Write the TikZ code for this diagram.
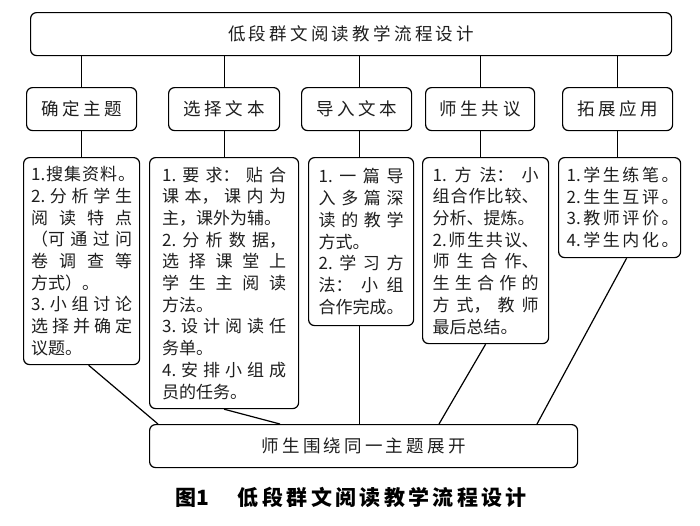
\documentclass[tikz,border=0pt]{standalone}
\usepackage{fontspec}
\setmainfont{Noto Sans CJK SC}
\XeTeXlinebreaklocale "zh"
\XeTeXlinebreakskip=0pt plus 40pt minus 1pt
\setlength{\parindent}{0pt}
\definecolor{textc}{HTML}{1E1E1E}
\def\spreadA#1{\ifx#1\relax\else#1\expandafter\spreadB\fi}
\def\spreadB#1{\ifx#1\relax\else\hfil#1\expandafter\spreadB\fi}
\newcommand\spr[2]{\makebox[#1][s]{\spreadA#2\relax}}
\newcommand\sprn[3]{\makebox[#1][s]{#2\hfil\spreadA#3\relax}}
\tikzset{
  box/.style={draw=black, line width=1.2pt, rounded corners=6pt, inner sep=0pt, text=textc, anchor=north west},
  lab/.style={box, minimum height=43pt, font=\fontsize{17.5}{20}\selectfont},
  body/.style={box, align=justify, font=\fontsize{17}{21.7}\selectfont},
  conn/.style={draw=black, line width=1.2pt}
}
\begin{document}
\begin{tikzpicture}[x=1pt,y=-1pt]
\useasboundingbox (0,0) rectangle (700,525);
% top
\node[lab, minimum width=641pt] (top) at (30,12) {\spr{246pt}{低段群文阅读教学流程设计}};
% row 2
\node[lab, minimum width=110pt] (a) at (26,87) {\spr{81pt}{确定主题}};
\node[lab, minimum width=111pt] (b) at (168,87) {\spr{81pt}{选择文本}};
\node[lab, minimum width=110pt] (c) at (301,87) {\spr{81pt}{导入文本}};
\node[lab, minimum width=109pt] (d) at (425,87) {\spr{81pt}{师生共议}};
\node[lab, minimum width=110pt] (e) at (562,87) {\spr{81pt}{拓展应用}};
% row 3
\node[body, minimum width=116pt, minimum height=207pt, inner xsep=7.5pt, text width=101pt] (r1) at (23,157)
 {\sprn{104pt}{1.}{搜集资料。}\par 2.分析学生\linebreak 阅读特点\linebreak （可通过问\linebreak 卷调查等\linebreak 方式）。\par 3.小组讨论\linebreak 选择并确定\linebreak 议题。};
\node[body, minimum width=149pt, minimum height=251pt, inner xsep=12.5pt, text width=124pt] (r2) at (149,157)
 {1.要求：贴合\linebreak 课本，课内为\linebreak 主，课外为辅。\par 2.分析数据，\linebreak 选择课堂上\linebreak 学生主阅读\linebreak 方法。\par 3.设计阅读任\linebreak 务单。\par 4.安排小组成\linebreak 员的任务。};
\node[body, minimum width=105pt, minimum height=168pt, inner xsep=10pt, text width=85pt] (r3) at (308,157)
 {1.一篇导\linebreak 入多篇深\linebreak 读的教学\linebreak 方式。\par 2.学习方\linebreak 法：小组\linebreak 合作完成。};
\node[body, minimum width=126pt, minimum height=186pt, inner xsep=10pt, text width=106pt] (r4) at (422,157)
 {1.方法：小\linebreak 组合作比较、\linebreak 分析、提炼。\par 2.师生共议、\linebreak 师生合作、\linebreak 生生合作的\linebreak 方式，教师\linebreak 最后总结。};
\node[body, minimum width=122pt, minimum height=100pt, inner xsep=8pt, text width=106pt] (r5) at (558,157)
 {\sprn{112pt}{1.}{学生练笔。}\par\sprn{112pt}{2.}{生生互评。}\par\sprn{112pt}{3.}{教师评价。}\par\sprn{112pt}{4.}{学生内化。}};
% bottom
\node[lab, minimum width=428pt] (bot) at (149,424) {\spr{204pt}{师生围绕同一主题展开}};
% caption
\node[anchor=west, inner sep=0pt, font=\fontsize{21}{21}\selectfont\bfseries, text=black] (cap) at (175,497)
 {图1\hspace{29pt}\spr{289pt}{低段群文阅读教学流程设计}};
% connectors top -> row2 -> row3
\draw[conn] (a.north |- top.south) -- (a.north);
\draw[conn] (a.south) -- (a.south |- r1.north);
\draw[conn] (b.north |- top.south) -- (b.north);
\draw[conn] (b.south) -- (b.south |- r2.north);
\draw[conn] ([xshift=-1.5pt]r3.north |- top.south) -- ([xshift=-1.5pt]r3.north |- c.north);
\draw[conn] ([xshift=-1.5pt]r3.north |- c.south) -- ([xshift=-1.5pt]r3.north);
\draw[conn] (d.north |- top.south) -- (d.north);
\draw[conn] (d.south) -- (d.south |- r4.north);
\draw[conn] (e.north |- top.south) -- (e.north);
\draw[conn] (e.south) -- (e.south |- r5.north);
% connectors row3 -> bottom
\draw[conn] ([xshift=7pt]r1.south) -- ([xshift=9pt]bot.north west);
\draw[conn] (r2.south) -- ([xshift=131pt]bot.north west);
\draw[conn] ([xshift=-1.5pt]r3.south) -- ([xshift=-1.5pt]r3.south |- bot.north);
\draw[conn] (r4.south) -- ([xshift=290pt]bot.north west);
\draw[conn] ([xshift=7pt]r5.south) -- ([xshift=388pt]bot.north west);
\end{tikzpicture}
\end{document}
